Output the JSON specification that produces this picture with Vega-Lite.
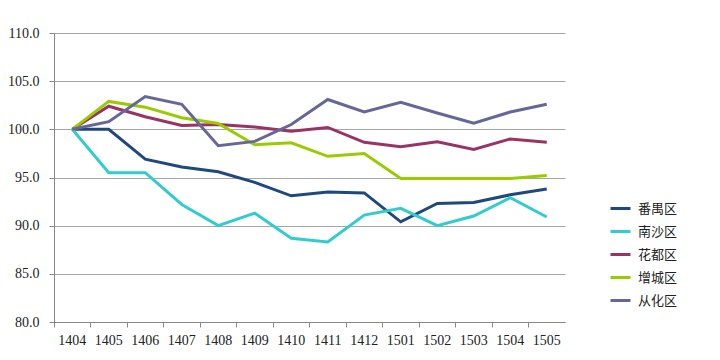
{
  "$schema": "https://vega.github.io/schema/vega-lite/v6.json",
  "width": 511,
  "height": 289,
  "autosize": {"type": "none"},
  "padding": {"left": 54, "top": 33, "right": 155, "bottom": 38},
  "background": "white",
  "config": {"view": {"stroke": null}, "font": "Noto Sans CJK SC"},
  "data": {"values": [
    {"m":"1404","s":"番禺区","v":100},{"m":"1405","s":"番禺区","v":100},{"m":"1406","s":"番禺区","v":96.9},{"m":"1407","s":"番禺区","v":96.1},{"m":"1408","s":"番禺区","v":95.6},{"m":"1409","s":"番禺区","v":94.5},{"m":"1410","s":"番禺区","v":93.1},{"m":"1411","s":"番禺区","v":93.5},{"m":"1412","s":"番禺区","v":93.4},{"m":"1501","s":"番禺区","v":90.4},{"m":"1502","s":"番禺区","v":92.3},{"m":"1503","s":"番禺区","v":92.4},{"m":"1504","s":"番禺区","v":93.2},{"m":"1505","s":"番禺区","v":93.8},
    {"m":"1404","s":"南沙区","v":100},{"m":"1405","s":"南沙区","v":95.5},{"m":"1406","s":"南沙区","v":95.5},{"m":"1407","s":"南沙区","v":92.2},{"m":"1408","s":"南沙区","v":90.0},{"m":"1409","s":"南沙区","v":91.3},{"m":"1410","s":"南沙区","v":88.7},{"m":"1411","s":"南沙区","v":88.3},{"m":"1412","s":"南沙区","v":91.1},{"m":"1501","s":"南沙区","v":91.8},{"m":"1502","s":"南沙区","v":90.0},{"m":"1503","s":"南沙区","v":91.0},{"m":"1504","s":"南沙区","v":92.9},{"m":"1505","s":"南沙区","v":90.9},
    {"m":"1404","s":"花都区","v":100},{"m":"1405","s":"花都区","v":102.4},{"m":"1406","s":"花都区","v":101.3},{"m":"1407","s":"花都区","v":100.4},{"m":"1408","s":"花都区","v":100.5},{"m":"1409","s":"花都区","v":100.25},{"m":"1410","s":"花都区","v":99.8},{"m":"1411","s":"花都区","v":100.2},{"m":"1412","s":"花都区","v":98.65},{"m":"1501","s":"花都区","v":98.2},{"m":"1502","s":"花都区","v":98.7},{"m":"1503","s":"花都区","v":97.9},{"m":"1504","s":"花都区","v":99.0},{"m":"1505","s":"花都区","v":98.65},
    {"m":"1404","s":"增城区","v":100},{"m":"1405","s":"增城区","v":102.9},{"m":"1406","s":"增城区","v":102.3},{"m":"1407","s":"增城区","v":101.2},{"m":"1408","s":"增城区","v":100.6},{"m":"1409","s":"增城区","v":98.4},{"m":"1410","s":"增城区","v":98.6},{"m":"1411","s":"增城区","v":97.2},{"m":"1412","s":"增城区","v":97.5},{"m":"1501","s":"增城区","v":94.9},{"m":"1502","s":"增城区","v":94.9},{"m":"1503","s":"增城区","v":94.9},{"m":"1504","s":"增城区","v":94.9},{"m":"1505","s":"增城区","v":95.2},
    {"m":"1404","s":"从化区","v":100},{"m":"1405","s":"从化区","v":100.8},{"m":"1406","s":"从化区","v":103.4},{"m":"1407","s":"从化区","v":102.6},{"m":"1408","s":"从化区","v":98.3},{"m":"1409","s":"从化区","v":98.75},{"m":"1410","s":"从化区","v":100.5},{"m":"1411","s":"从化区","v":103.1},{"m":"1412","s":"从化区","v":101.8},{"m":"1501","s":"从化区","v":102.8},{"m":"1502","s":"从化区","v":101.7},{"m":"1503","s":"从化区","v":100.65},{"m":"1504","s":"从化区","v":101.8},{"m":"1505","s":"从化区","v":102.6}
  ]},
  "mark": {"type": "line", "strokeWidth": 3},
  "encoding": {
    "x": {"field": "m", "type": "ordinal", "sort": null,
      "scale": {"type": "band", "paddingInner": 0, "paddingOuter": 0},
      "axis": {"title": null, "labelAngle": 0, "bandPosition": 0, "labelFontSize": 14, "labelColor": "#222", "labelFont": "Liberation Serif",
        "domainColor": "#888", "tickColor": "#888", "tickSize": 5, "labelPadding": 6, "grid": false,
        "labelAlign": "center"}},
    "y": {"field": "v", "type": "quantitative",
      "scale": {"domain": [80, 110], "nice": false, "zero": false},
      "axis": {"title": null, "values": [80, 85, 90, 95, 100, 105, 110], "format": ".1f", "labelFontSize": 14, "labelColor": "#222", "labelFont": "Liberation Serif",
        "domainColor": "#888", "tickColor": "#888", "tickSize": 5, "labelPadding": 10, "gridColor": "#A6A6A6", "gridWidth": 1}},
    "color": {"field": "s", "type": "nominal", "sort": ["番禺区","南沙区","花都区","增城区","从化区"],
      "scale": {"domain": ["番禺区","南沙区","花都区","增城区","从化区"], "range": ["#1F497D","#33CCCC","#993366","#99CC00","#666699"]},
      "legend": {"title": null, "orient": "none", "legendX": 555, "legendY": 164, "symbolType": "stroke", "symbolStrokeWidth": 3, "symbolSize": 400,
        "labelFontSize": 13, "labelColor": "#222", "rowPadding": 4, "labelOffset": 6}}
  }
}
